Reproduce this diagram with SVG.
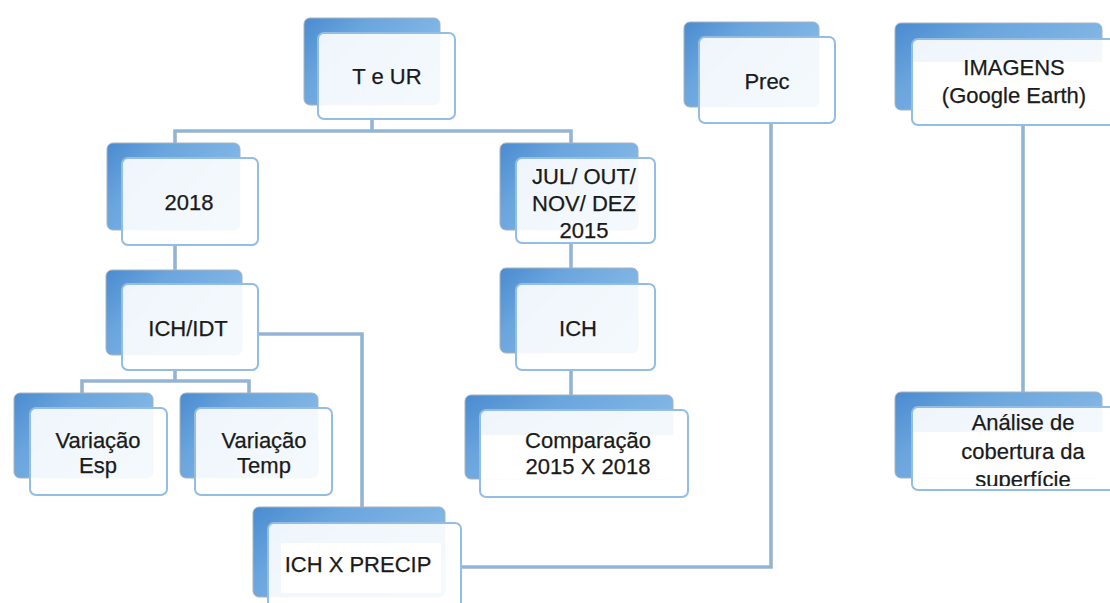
<svg xmlns="http://www.w3.org/2000/svg" width="1110" height="603" viewBox="0 0 1110 603">
  <defs>
    <linearGradient id="backFill" x1="0" y1="0" x2="1" y2="0.6">
      <stop offset="0" stop-color="#4a8bd0"/>
      <stop offset="0.35" stop-color="#6aa5dd"/>
      <stop offset="1" stop-color="#8bbde8"/>
    </linearGradient>
    <clipPath id="clipAnalise"><rect x="913" y="408" width="200" height="78"/></clipPath>
  </defs>
  <style>
    .back { fill: url(#backFill); stroke: #a9b3bd; stroke-width: 1; }
    .front { fill: #ffffff; fill-opacity: 0.9; stroke: #93bde4; stroke-width: 2; }
    .patch { fill: #ffffff; }
    .lbl { font-family: "Liberation Sans", Arial, sans-serif; font-size: 22px; fill: #1a1a1a; stroke: #1a1a1a; stroke-width: 0.25; text-anchor: middle; }
    .link { fill: none; stroke: #8db6dc; stroke-width: 2.2; stroke-linejoin: miter; }
    .linkEdge { fill: none; stroke: #a3b4c4; stroke-width: 3.6; stroke-linejoin: miter; }
  </style>

  <rect width="1110" height="603" fill="#ffffff"/>

  <!-- connectors -->
  <g id="connectors">
    <g class="linkEdge">
      <path d="M372 119 V131 M175 143 V131 H571 V143"/>
      <path d="M175 245 V270"/>
      <path d="M175 370 V381 M82 393 V381 H249 V393"/>
      <path d="M258 334 H362 V508"/>
      <path d="M571 243 V268"/>
      <path d="M571 370 V395"/>
      <path d="M461 567 H771 V123"/>
      <path d="M1023 125 V392"/>
    </g>
    <g class="link">
      <path d="M372 119 V131 M175 143 V131 H571 V143"/>
      <path d="M175 245 V270"/>
      <path d="M175 370 V381 M82 393 V381 H249 V393"/>
      <path d="M258 334 H362 V508"/>
      <path d="M571 243 V268"/>
      <path d="M571 370 V395"/>
      <path d="M461 567 H771 V123"/>
      <path d="M1023 125 V392"/>
    </g>
  </g>

  <!-- T e UR -->
  <g id="node-teur">
    <rect class="back" x="304" y="18" width="136" height="87" rx="6"/>
    <rect class="front" x="318" y="33" width="137" height="86" rx="6"/>
    <text class="lbl" x="387" y="84">T e UR</text>
  </g>

  <!-- 2018 -->
  <g id="node-2018">
    <rect class="back" x="107" y="143" width="133" height="87" rx="6"/>
    <rect class="front" x="122" y="158" width="136" height="87" rx="6"/>
    <text class="lbl" x="189" y="210">2018</text>
  </g>

  <!-- ICH/IDT -->
  <g id="node-ichidt">
    <rect class="back" x="106" y="270" width="136" height="85" rx="6"/>
    <rect class="front" x="122" y="284" width="136" height="86" rx="6"/>
    <text class="lbl" x="188" y="336">ICH/IDT</text>
  </g>

  <!-- Variação Esp -->
  <g id="node-variacao-esp">
    <rect class="back" x="14" y="393" width="139" height="85" rx="6"/>
    <rect class="front" x="30" y="408" width="137" height="87" rx="6"/>
    <text class="lbl" x="98" y="448">Variação</text>
    <text class="lbl" x="98" y="473">Esp</text>
  </g>

  <!-- Variação Temp -->
  <g id="node-variacao-temp">
    <rect class="back" x="180" y="393" width="138" height="85" rx="6"/>
    <rect class="front" x="195" y="408" width="137" height="87" rx="6"/>
    <text class="lbl" x="264" y="448">Variação</text>
    <text class="lbl" x="264" y="473">Temp</text>
  </g>

  <!-- ICH X PRECIP -->
  <g id="node-ich-precip">
    <rect class="back" x="253" y="507" width="192" height="90" rx="6"/>
    <rect class="front" x="268" y="523" width="193" height="95" rx="6"/>
    <rect class="patch" x="281" y="543" width="160" height="50"/>
    <text class="lbl" x="358" y="572">ICH X PRECIP</text>
  </g>

  <!-- JUL/ OUT/ NOV/ DEZ 2015 -->
  <g id="node-jul-dez-2015">
    <rect class="back" x="500" y="143" width="138" height="87" rx="6"/>
    <rect class="front" x="516" y="158" width="139" height="85" rx="6"/>
    <text class="lbl" x="584" y="184">JUL/ OUT/</text>
    <text class="lbl" x="584" y="211">NOV/ DEZ</text>
    <text class="lbl" x="584" y="238">2015</text>
  </g>

  <!-- ICH -->
  <g id="node-ich">
    <rect class="back" x="500" y="268" width="138" height="85" rx="6"/>
    <rect class="front" x="516" y="284" width="139" height="86" rx="6"/>
    <text class="lbl" x="578" y="336">ICH</text>
  </g>

  <!-- Comparação 2015 X 2018 -->
  <g id="node-comparacao">
    <rect class="back" x="465" y="395" width="208" height="84" rx="6"/>
    <rect class="front" x="480" y="410" width="208" height="87" rx="6"/>
    <rect class="patch" x="481" y="435" width="206" height="44"/>
    <text class="lbl" x="588" y="448">Comparação</text>
    <text class="lbl" x="588" y="474">2015 X 2018</text>
  </g>

  <!-- Prec -->
  <g id="node-prec">
    <rect class="back" x="684" y="22" width="135" height="85" rx="6"/>
    <rect class="front" x="699" y="37" width="136" height="86" rx="6"/>
    <text class="lbl" x="767" y="89">Prec</text>
  </g>

  <!-- IMAGENS (Google Earth) -->
  <g id="node-imagens">
    <rect class="back" x="895" y="23" width="207" height="87" rx="6"/>
    <rect class="front" x="912" y="39" width="210" height="86" rx="6"/>
    <rect class="patch" x="913" y="62" width="197" height="48"/>
    <text class="lbl" x="1014" y="75">IMAGENS</text>
    <text class="lbl" x="1014" y="103">(Google Earth)</text>
  </g>

  <!-- Análise de cobertura da superfície -->
  <g id="node-analise">
    <rect class="back" x="895" y="392" width="207" height="86" rx="6"/>
    <rect class="front" x="912" y="407" width="210" height="83" rx="6"/>
    <rect class="patch" x="913" y="432" width="197" height="46"/>
    <g clip-path="url(#clipAnalise)">
      <text class="lbl" x="1023" y="430">Análise de</text>
      <text class="lbl" x="1023" y="459">cobertura da</text>
      <text class="lbl" x="1023" y="487">superfície</text>
    </g>
  </g>
</svg>
